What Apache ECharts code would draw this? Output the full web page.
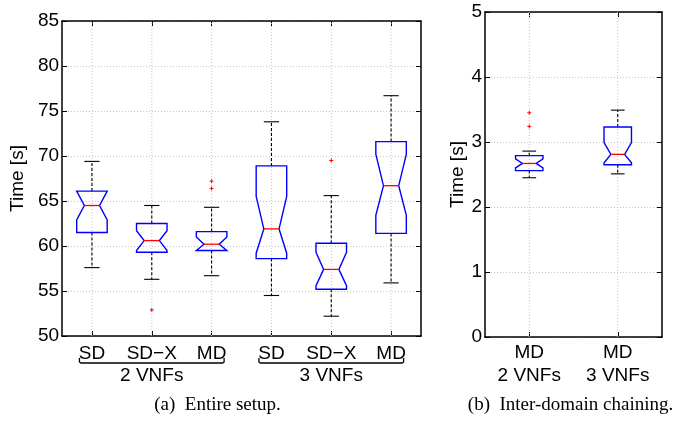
<!DOCTYPE html>
<html>
<head>
<meta charset="utf-8">
<script src="https://cdn.jsdelivr.net/npm/echarts@6/dist/echarts.min.js"></script>
<style>
html,body{margin:0;padding:0;background:#fff;}
#chart{width:683px;height:424px;}
</style>
</head>
<body>
<div id="chart"></div>
<script>
// ---- Panel (a): Entire setup ----
const cats1 = ['SD', 'SD\u2212X', 'MD', 'SD', 'SD\u2212X', 'MD'];
const whiskerLo1 = [57.6, 56.3, 56.7, 54.5, 52.2, 55.9];
const q1_1       = [61.5, 59.3, 59.5, 58.6, 55.2, 61.4];
const notchLo1   = [62.9, 59.5, 59.5, 59.2, 55.6, 63.4];
const median1    = [64.5, 60.6, 60.2, 61.9, 57.4, 66.7];
const notchHi1   = [66.1, 61.7, 61.0, 65.5, 59.3, 70.2];
const q3_1       = [66.1, 62.5, 61.6, 68.9, 60.3, 71.6];
const whiskerHi1 = [69.4, 64.5, 64.3, 73.8, 65.6, 76.7];
const outliers1  = [[1, 52.9], [2, 67.2], [2, 66.4], [4, 69.5]];
const groups1 = [{name: '2 VNFs', from: 0, to: 2}, {name: '3 VNFs', from: 3, to: 5}];
const yTicks1 = {min: 50, max: 85, interval: 5};

// ---- Panel (b): Inter-domain chaining ----
const cats2 = ['MD\n2 VNFs', 'MD\n3 VNFs'];
const whiskerLo2 = [2.45, 2.51];
const q1_2       = [2.56, 2.65];
const notchLo2   = [2.60, 2.68];
const median2    = [2.67, 2.81];
const notchHi2   = [2.74, 2.99];
const q3_2       = [2.79, 3.23];
const whiskerHi2 = [2.86, 3.49];
const outliers2  = [[0, 3.45], [0, 3.24]];
const yTicks2 = {min: 0, max: 5, interval: 1};

const captions = ['(a)  Entire setup.', '(b)  Inter-domain chaining.'];

function boxData(lo, q1, nlo, med, nhi, q3, hi) {
  return lo.map((v, i) => [i, lo[i], q1[i], nlo[i], med[i], nhi[i], q3[i], hi[i]]);
}

const BLUE = '#0000ff', RED = '#ff0000';
const SANS = 'Liberation Sans, Arial, Helvetica, sans-serif';
const FS = 19;

function makeBoxRender(ratio, yMin, yMax) {
  return function (params, api) {
    const i = api.value(0);
    const band = api.size([1, 0])[0];
    const w = band * ratio;
    const cx = api.coord([i, api.value(4)])[0];
    const y = v => api.coord([i, v])[1];
    const lo = api.value(1), q1 = api.value(2), nlo = api.value(3), med = api.value(4),
          nhi = api.value(5), q3 = api.value(6), hi = api.value(7);
    const hw = w / 2, qw = w / 4;
    const dash = {stroke: '#000', lineWidth: 1.1, lineDash: [3, 2]};
    return {
      type: 'group',
      children: [
        {type: 'line', shape: {x1: cx, y1: y(yMin), x2: cx, y2: y(yMax)},
         style: {stroke: '#c4c4c4', lineWidth: 1, lineDash: [1, 2]}},
        {type: 'line', shape: {x1: cx, y1: y(q3), x2: cx, y2: y(hi)}, style: dash},
        {type: 'line', shape: {x1: cx, y1: y(q1), x2: cx, y2: y(lo)}, style: dash},
        {type: 'line', shape: {x1: cx - qw, y1: y(hi), x2: cx + qw, y2: y(hi)}, style: {stroke: '#000', lineWidth: 1.1}},
        {type: 'line', shape: {x1: cx - qw, y1: y(lo), x2: cx + qw, y2: y(lo)}, style: {stroke: '#000', lineWidth: 1.1}},
        {type: 'polygon', shape: {points: [
          [cx - hw, y(q3)], [cx + hw, y(q3)], [cx + hw, y(nhi)], [cx + qw, y(med)],
          [cx + hw, y(nlo)], [cx + hw, y(q1)], [cx - hw, y(q1)], [cx - hw, y(nlo)],
          [cx - qw, y(med)], [cx - hw, y(nhi)]
        ]}, style: {stroke: BLUE, fill: 'none', lineWidth: 1.4}},
        {type: 'line', shape: {x1: cx - qw, y1: y(med), x2: cx + qw, y2: y(med)}, style: {stroke: RED, lineWidth: 1.3}}
      ]
    };
  };
}

function outlierRender(params, api) {
  const p = api.coord([api.value(0), api.value(1)]);
  const a = 2;
  return {
    type: 'group',
    children: [
      {type: 'line', shape: {x1: p[0] - a, y1: p[1], x2: p[0] + a, y2: p[1]}, style: {stroke: RED, lineWidth: 1}},
      {type: 'line', shape: {x1: p[0], y1: p[1] - a, x2: p[0], y2: p[1] + a}, style: {stroke: RED, lineWidth: 1}}
    ]
  };
}

const frameLine = {show: true, onZero: false, lineStyle: {color: '#000', width: 1.5}};
const tickIn = {show: true, inside: true, length: 5, alignWithLabel: true, lineStyle: {color: '#000', width: 1}};

function xAxes(gridIndex, cats, margin) {
  return [
    {gridIndex, type: 'category', data: cats, position: 'bottom', boundaryGap: true,
     axisLine: frameLine, axisTick: tickIn,
     axisLabel: {color: '#000', fontSize: FS, fontFamily: SANS, margin: margin, lineHeight: 23, interval: 0},
     splitLine: {show: false}},
    {gridIndex, type: 'category', data: cats, position: 'top', boundaryGap: true,
     axisLine: frameLine, axisTick: tickIn, axisLabel: {show: false}, splitLine: {show: false}}
  ];
}
function yAxes(gridIndex, t, nameGap) {
  return [
    {gridIndex, type: 'value', position: 'left', min: t.min, max: t.max, interval: t.interval,
     axisLine: frameLine, axisTick: {show: true, inside: true, length: 5, lineStyle: {color: '#000'}},
     axisLabel: {color: '#000', fontSize: FS, fontFamily: SANS, margin: 3},
     splitLine: {show: true, lineStyle: {color: '#c4c4c4', type: [1, 2], width: 1}},
     name: 'Time [s]', nameLocation: 'middle', nameGap: nameGap,
     nameTextStyle: {color: '#000', fontSize: FS, fontFamily: SANS}},
    {gridIndex, type: 'value', position: 'right', min: t.min, max: t.max, interval: t.interval,
     axisLine: frameLine, axisTick: {show: true, inside: true, length: 5, lineStyle: {color: '#000'}},
     axisLabel: {show: false}, splitLine: {show: false}}
  ];
}

const chart = echarts.init(document.getElementById('chart'), null, {renderer: 'canvas'});
const option = {
  animation: false,
  backgroundColor: '#fff',
  grid: [
    {left: 59, top: 21, width: 362, height: 315},
    {left: 485, top: 12, width: 177, height: 325}
  ],
  xAxis: [...xAxes(0, cats1, 6), ...xAxes(1, cats2, 4)],
  yAxis: [...yAxes(0, yTicks1, 31), ...yAxes(1, yTicks2, 18)],
  series: [
    {type: 'custom', xAxisIndex: 0, yAxisIndex: 0,
     renderItem: makeBoxRender(0.51, yTicks1.min, yTicks1.max),
     data: boxData(whiskerLo1, q1_1, notchLo1, median1, notchHi1, q3_1, whiskerHi1),
     encode: {x: 0, y: [1, 2, 3, 4, 5, 6, 7]}, clip: false},
    {type: 'custom', xAxisIndex: 0, yAxisIndex: 0, renderItem: outlierRender,
     data: outliers1, encode: {x: 0, y: 1}},
    {type: 'custom', xAxisIndex: 2, yAxisIndex: 2,
     renderItem: makeBoxRender(0.31, yTicks2.min, yTicks2.max),
     data: boxData(whiskerLo2, q1_2, notchLo2, median2, notchHi2, q3_2, whiskerHi2),
     encode: {x: 0, y: [1, 2, 3, 4, 5, 6, 7]}, clip: false},
    {type: 'custom', xAxisIndex: 2, yAxisIndex: 2, renderItem: outlierRender,
     data: outliers2, encode: {x: 0, y: 1}}
  ]
};
chart.setOption(option);

// group brackets + captions (positions derived from the axes)
const graphics = [];
const bottom1 = chart.convertToPixel({yAxisIndex: 0}, yTicks1.min);
groups1.forEach(g => {
  const x1 = chart.convertToPixel({xAxisIndex: 0}, g.from) - 12.5;
  const x2 = chart.convertToPixel({xAxisIndex: 0}, g.to) + 12.5;
  const yb = bottom1 + 27;
  graphics.push({type: 'polyline', shape: {points: [[x1, yb - 5], [x1, yb - 1], [x1 + 1.5, yb], [x2 - 1.5, yb], [x2, yb - 1], [x2, yb - 5]]},
    style: {stroke: '#000', lineWidth: 1.3, fill: 'none'}});
  graphics.push({type: 'text', x: (x1 + x2) / 2, y: yb + 13,
    style: {text: g.name, fontSize: FS, fontFamily: SANS, fill: '#000', textAlign: 'center', textVerticalAlign: 'middle'}});
});
const capX = [
  (chart.convertToPixel({xAxisIndex: 0}, 0) + chart.convertToPixel({xAxisIndex: 0}, 5)) / 2 - 24,
  (chart.convertToPixel({xAxisIndex: 2}, 0) + chart.convertToPixel({xAxisIndex: 2}, 1)) / 2 - 3
];
captions.forEach((c, k) => {
  graphics.push({type: 'text', x: capX[k], y: 405,
    style: {text: c, fontSize: 19, fontFamily: 'Liberation Serif, Times New Roman, serif', fill: '#000',
            textAlign: 'center', textVerticalAlign: 'middle'}});
});
chart.setOption({graphic: graphics});
</script>
</body>
</html>
